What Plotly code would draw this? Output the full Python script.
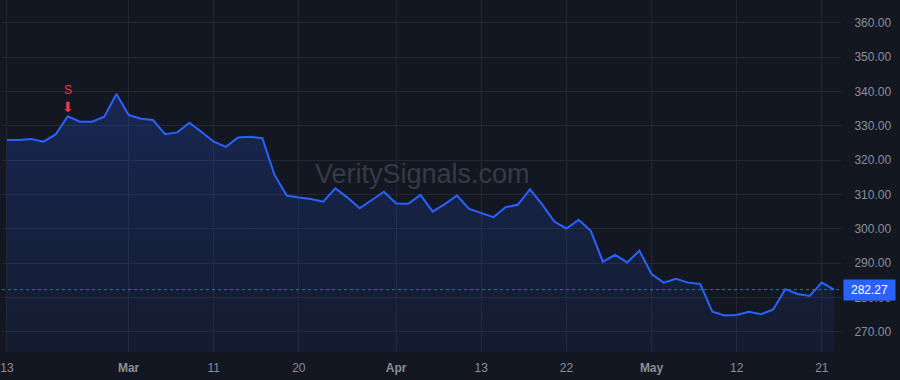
import plotly.graph_objects as go

# ---- data ----
prices = [
    325.9, 325.9, 326.2, 325.4, 327.5, 332.8, 331.2, 331.2, 332.7, 339.3,
    333.2, 332.1, 331.7, 327.6, 328.1, 330.9, 328.2, 325.4, 323.9, 326.6,
    326.8, 326.4, 315.7, 309.7, 309.1, 308.7, 307.9, 311.8, 309.1, 306.0,
    308.4, 310.8, 307.4, 307.3, 309.9, 305.0, 307.2, 309.7, 305.8, 304.6,
    303.4, 306.3, 307.0, 311.5, 307.1, 302.1, 300.1, 302.6, 299.4, 290.4,
    292.4, 290.2, 293.6, 286.8, 284.3, 285.4, 284.3, 283.9, 275.8, 274.7,
    274.9, 275.8, 275.1, 276.5, 282.4, 281.0, 280.4, 284.3, 282.27,
]
x_tick_idx = [0, 10, 17, 24, 32, 39, 46, 53, 60, 67]
x_tick_labels = ["13", "<b>Mar</b>", "11", "20", "<b>Apr</b>", "13", "22", "<b>May</b>", "12", "21"]
y_ticks = [270, 280, 290, 300, 310, 320, 330, 340, 350, 360]
signal_idx = 5
signal_label = "S"
last_price = prices[-1]
watermark = "VeritySignals.com"

x = list(range(len(prices)))

BG = "#131722"
GRID = "#232734"
BLUE = "#2962ff"
RED = "#f23645"
TXT = "#8b8e98"

fig = go.Figure()

fig.add_trace(go.Scatter(
    x=x, y=prices, mode="lines",
    line=dict(color=BLUE, width=2),
    fill="tozeroy",
    fillgradient=dict(
        type="vertical",
        start=264, stop=340,
        colorscale=[[0, "rgba(41,98,255,0.06)"], [1, "rgba(41,98,255,0.22)"]],
    ),
    hoverinfo="skip", showlegend=False,
))

# last price dotted line
fig.add_shape(type="line", xref="paper", x0=0, x1=1, y0=last_price, y1=last_price,
              line=dict(color=BLUE, width=1, dash="dot"))

fig.add_annotation(xref="paper", x=1, y=last_price, xanchor="left", yanchor="middle",
                   text=f"{last_price:.2f}", showarrow=False,
                   font=dict(color="white", size=12, family="Liberation Sans, Arial"),
                   bgcolor=BLUE, borderpad=3, width=45, align="center", xshift=1)

# signal marker: block down arrow + "S" label
fig.add_annotation(x=signal_idx, y=prices[signal_idx], text="\u2b07", showarrow=False,
                   yanchor="middle", yshift=9,
                   font=dict(color=RED, size=14, family="DejaVu Sans"))
fig.add_annotation(x=signal_idx, y=prices[signal_idx], text=signal_label, showarrow=False,
                   yanchor="middle", yshift=26,
                   font=dict(color=RED, size=12, family="Liberation Sans, Arial"))

# watermark
fig.add_annotation(xref="paper", yref="paper", x=0.5, y=0.505, text=watermark,
                   showarrow=False, font=dict(color="#363a46", size=27,
                                              family="Liberation Sans, Arial"))

fig.update_layout(
    width=900, height=380,
    margin=dict(l=0, r=58, t=0, b=28),
    paper_bgcolor=BG, plot_bgcolor=BG,
    font=dict(family="Liberation Sans, Arial", size=12, color=TXT),
    xaxis=dict(
        range=[-0.41, 68.66], tickmode="array", tickvals=x_tick_idx, ticktext=x_tick_labels,
        showgrid=True, gridcolor=GRID, gridwidth=1, zeroline=False, showline=False,
        ticks="outside", ticklen=5, tickcolor="rgba(0,0,0,0)",
        ticklabeloverflow="allow",
        tickfont=dict(color=TXT, size=12),
    ),
    yaxis=dict(
        side="right", range=[264.08, 366.7], tickmode="array", tickvals=y_ticks,
        ticktext=[f"{v:.2f}" for v in y_ticks],
        showgrid=True, gridcolor=GRID, gridwidth=1, zeroline=False, showline=False,
        ticks="outside", ticklen=9, tickcolor="rgba(0,0,0,0)",
        tickfont=dict(color=TXT, size=12),
    ),
)

fig.write_html("out.html")
